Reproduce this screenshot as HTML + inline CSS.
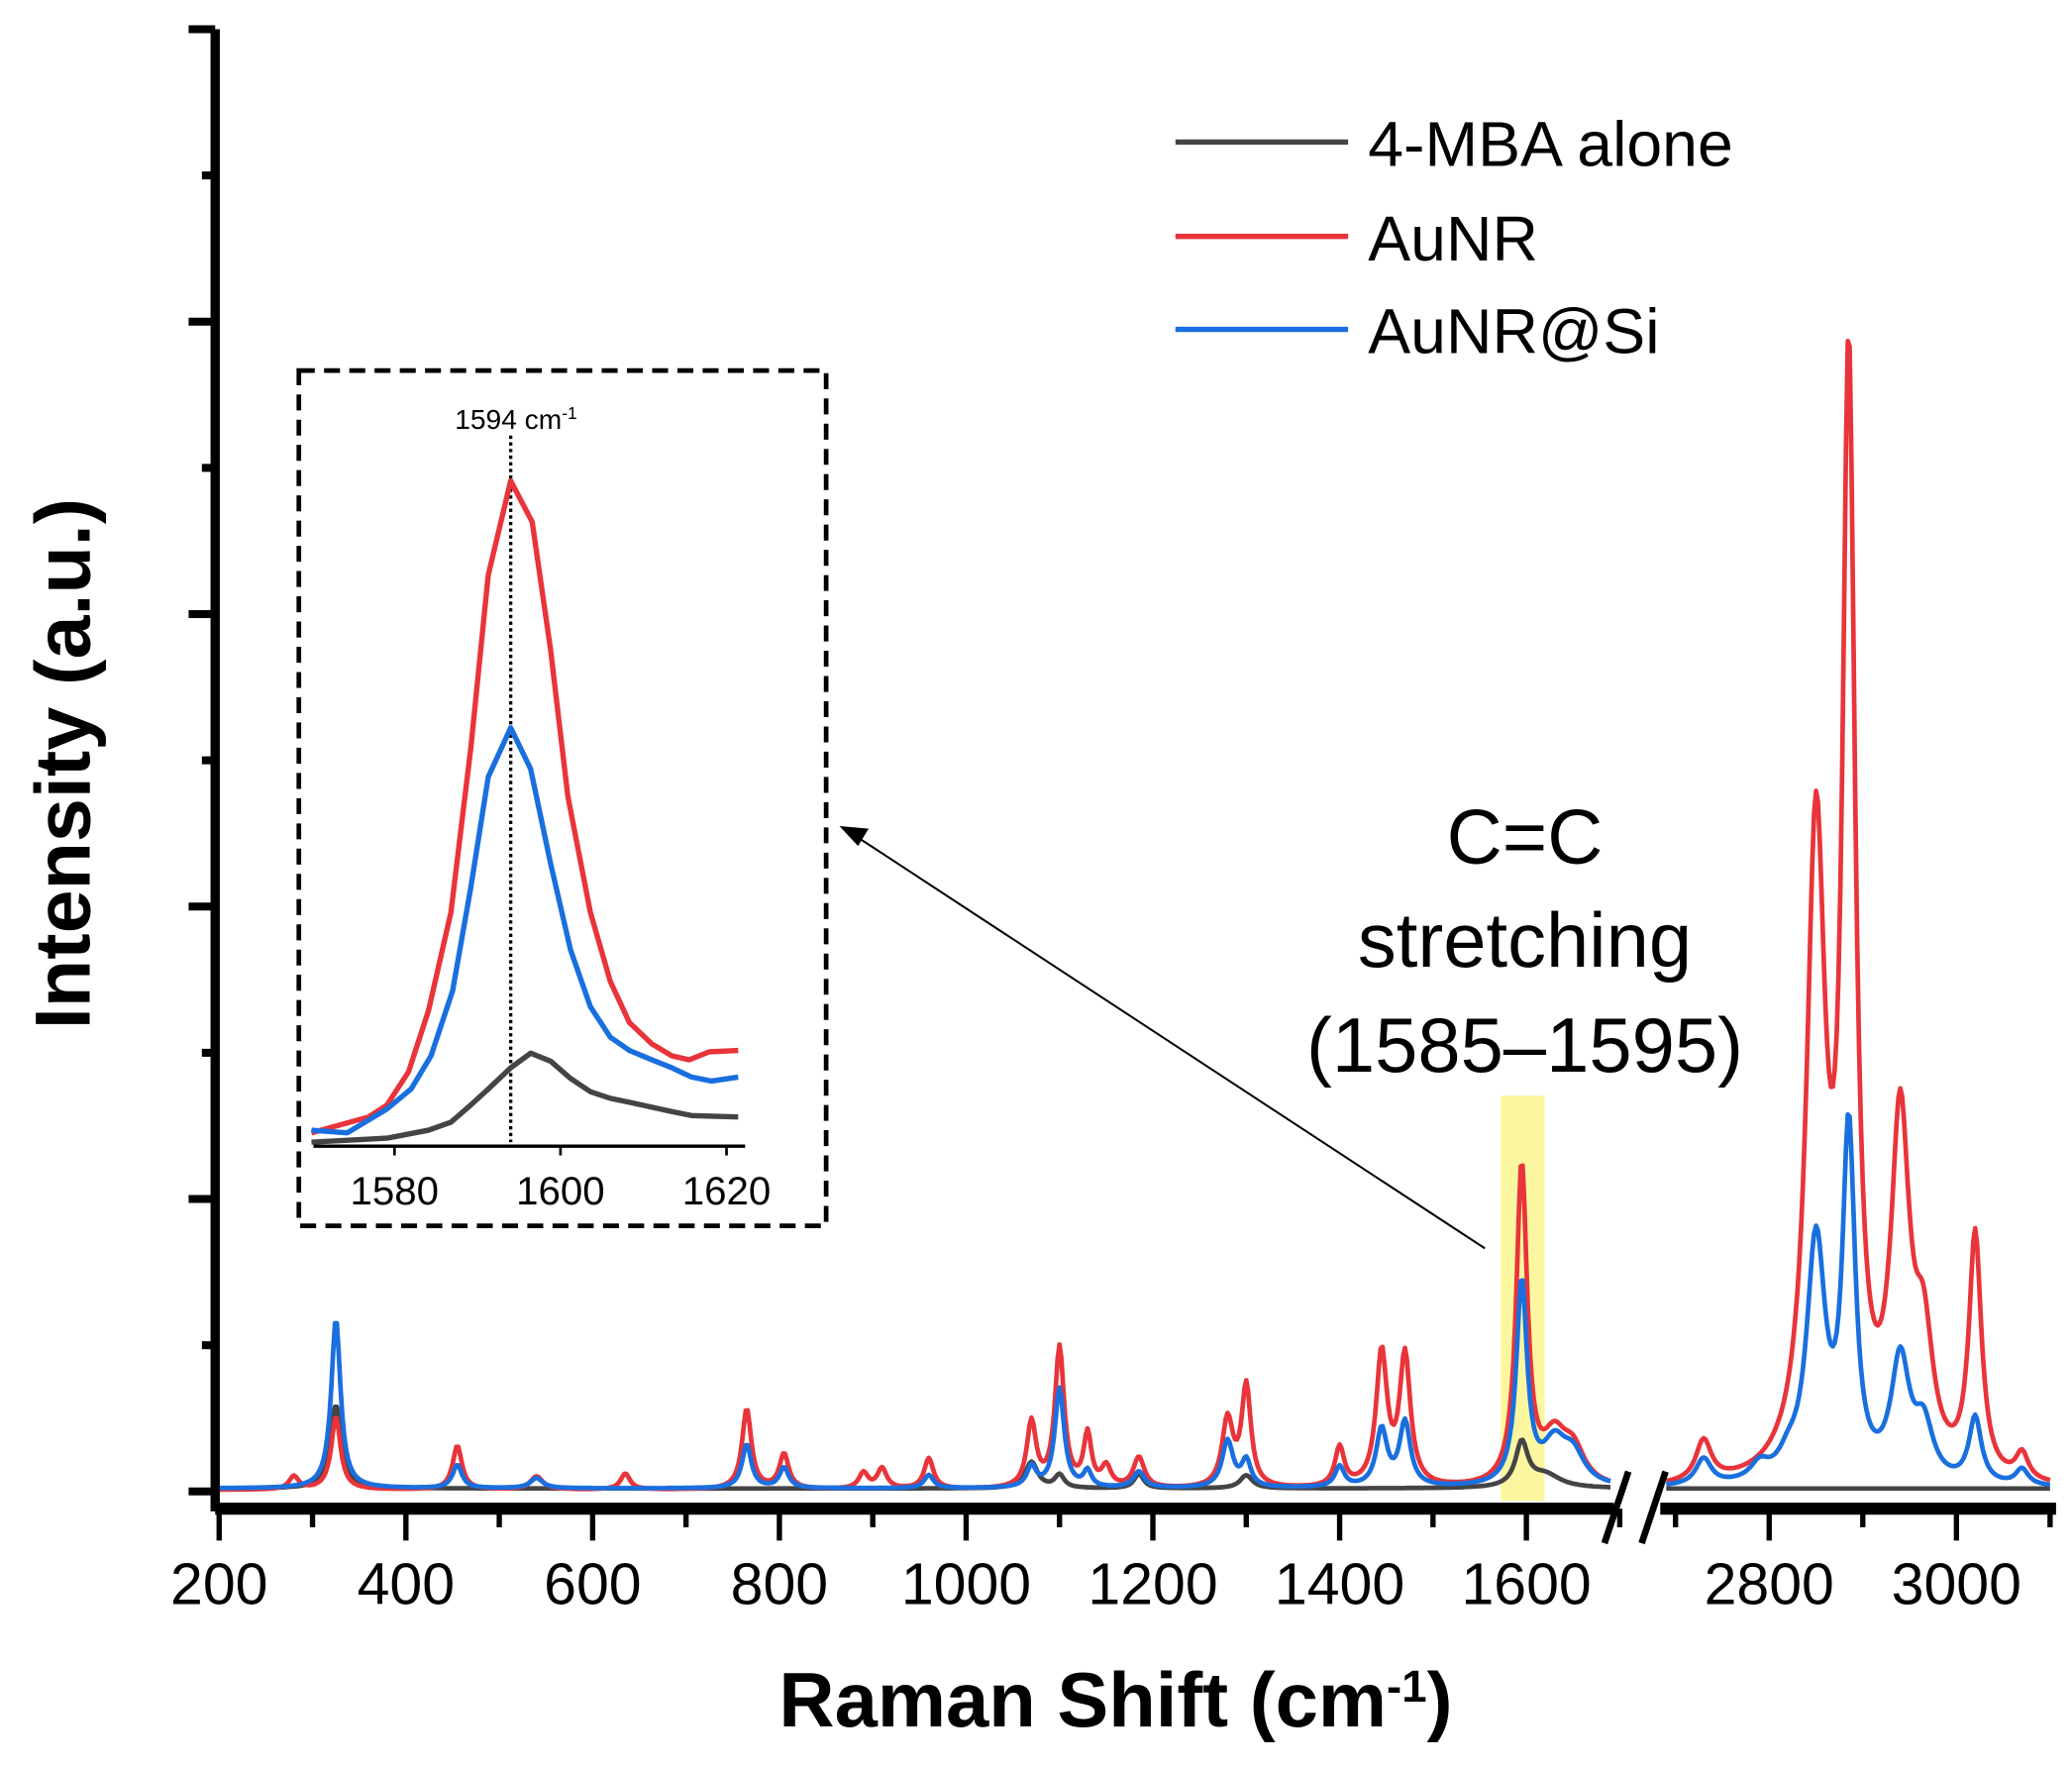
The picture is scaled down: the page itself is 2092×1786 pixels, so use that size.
<!DOCTYPE html>
<html><head><meta charset="utf-8"><style>
html,body{margin:0;padding:0;background:#fff;}
svg{display:block;font-family:"Liberation Sans",Arial,sans-serif;}
</style></head><body>
<svg id="chart" width="2092" height="1786" viewBox="0 0 1560 1332" preserveAspectRatio="none">
<rect x="1130" y="825" width="33" height="305" fill="#fbf7a0"/>
<g id="plot"></g>
<g id="axes"></g>
<text x="52" y="575" transform="rotate(-90 52 575)" text-anchor="middle" dominant-baseline="middle" font-size="59" font-weight="bold">Intensity (a.u.)</text>
<text x="840" y="1300" text-anchor="middle" font-size="58" font-weight="bold">Raman Shift (cm<tspan baseline-shift="super" font-size="34">-1</tspan>)</text>
<g>
<line x1="885" y1="107" x2="1015" y2="107" stroke="#444" stroke-width="4"/>
<text x="1030" y="125" font-size="48">4-MBA alone</text>
<line x1="885" y1="178" x2="1015" y2="178" stroke="#e8343a" stroke-width="4"/>
<text x="1030" y="196" font-size="48">AuNR</text>
<line x1="885" y1="248" x2="1015" y2="248" stroke="#1a6fdf" stroke-width="4"/>
<text x="1030" y="266" font-size="48">AuNR@Si</text>
</g>
<g font-size="58" text-anchor="middle">
<text x="1148" y="650">C=C</text>
<text x="1148" y="728">stretching</text>
<text x="1148" y="807">(1585–1595)</text>
</g>
<line x1="1118" y1="940" x2="645" y2="630" stroke="#000" stroke-width="1.5"/>
<polygon points="632,622 654,624 646,637" fill="#000"/>
<g id="inset">
<rect x="225" y="279" width="397" height="644" fill="#fff" stroke="#000" stroke-width="3.5" stroke-dasharray="12,7"/>
</g>
</svg>
<script>
// Main spectrum peaks (centers in cm-1, heights in a.u., half-widths)
const redCenters=[280,325,455,540,635,765,805,890,910,960,1070,1100,1130,1150,1185,1280,1300,1400,1445,1470,1595,1630,1650,2730,2850,2885,2940,2965,3020,3070];
const redHeights=[9,50,30,9,11,55,24,11,14,21,45,96,36,14,21,46,69,27,91,89,219,30,23,28,436,736,235,80,165,18];
const redWidths=[6,6,6,8,6,6,6,6,6,6,6,6,5,6,7,7,6,6,7,7,7,15,15,10,12,8,12,12,8,8];
const blueCenters=[325,455,540,765,805,960,1070,1100,1130,1185,1280,1300,1400,1445,1470,1595,1630,1650,2730,2790,2820,2850,2885,2940,2965,3020,3070];
const blueHeights=[116,16,7,30,14,9,14,68,11,11,32,18,14,39,44,139,27,20,18,11,11,164,236,82,36,45,11];
const blueWidths=[6,6,8,6,6,6,6,6,5,7,7,6,6,7,7,7,15,15,10,12,12,12,8,12,12,8,8];
const blackCenters=[325,1070,1100,1185,1300,1595,1620];
const blackHeights=[57,18,9,10,9,30,9];
const blackWidths=[7,8,6,6,8,8,20];
const xTicksLeft=[200,400,600,800,1000,1200,1400,1600];
const xTicksRight=[2800,3000];
// Inset data
const insetRedX=[1570,1576.9,1579.1,1581.7,1584.1,1586.8,1589.2,1591.3,1594,1596.6,1598.8,1600.9,1603.6,1606,1608.3,1611,1613.4,1615.5,1617.9,1621.4];
const insetRedY=[7,19,28,53,99,173,297,427,498,467,371,260,173,121,90,74,65,62,68,69];
const insetBlueX=[1570,1574.3,1579.1,1582,1584.4,1587,1589.2,1591.3,1594,1596.4,1598.8,1601.2,1603.6,1606,1608.3,1611,1613.4,1615.8,1618.2,1621.4];
const insetBlueY=[9,7,25,40,65,114,192,275,312,281,210,145,102,79,69,62,56,49,46,49];
const insetBlackX=[1570,1579.1,1584.1,1586.8,1589.2,1591.3,1594,1596.4,1598.8,1601.2,1603.6,1606,1608.3,1613.4,1615.8,1621.4];
const insetBlackY=[0,3,9,15,28,40,56,67,61,48,38,33,30,23,20,19];
const insetTicks=[1580,1600,1620];

const NS="http://www.w3.org/2000/svg";
function mk(tag,attrs,parent){const e=document.createElementNS(NS,tag);for(const k in attrs)e.setAttribute(k,attrs[k]);parent.appendChild(e);return e;}
function xs(x){return x<=1700?165+(x-200)*0.703:1332+(x-2800)*0.705;}
function ys(v){return 1123-v*1.101;}
function spec(c,h,w,x,base){let s=base;for(let i=0;i<c.length;i++){const d=(x-c[i])/w[i];s+=h[i]/(1+d*d);}return s;}
const plot=document.getElementById('plot');
function drawSeries(c,h,w,color,name,base){
  [[200,1690],[2690,3100]].forEach((seg,si)=>{
    let d='';
    for(let x=seg[0];x<=seg[1];x+=2){d+=(x===seg[0]?'M':'L')+xs(x).toFixed(1)+','+ys(spec(c,h,w,x,base)).toFixed(1);}
    const p=mk('path',{d:d,fill:'none',stroke:color,'stroke-width':3.5,'stroke-linejoin':'round'},plot);
    
    
  });
}
drawSeries(blackCenters,blackHeights,blackWidths,'#444','mba',2);
drawSeries(redCenters,redHeights,redWidths,'#e8343a','aunr',1);
drawSeries(blueCenters,blueHeights,blueWidths,'#1a6fdf','aunr-si',2);

const axes=document.getElementById('axes');
let yl=mk('line',{x1:162,y1:22,x2:162,y2:1138,stroke:'#000','stroke-width':7},axes);

for(let i=0;i<=10;i++){const y=22+i*110.1;const major=i%2===0;
  const t=mk('line',{x1:major?142:152,y1:y,x2:162,y2:y,stroke:'#000','stroke-width':6},axes);
  }
let xl=mk('line',{x1:162,y1:1136,x2:1215,y2:1136,stroke:'#000','stroke-width':9},axes);

let xr=mk('line',{x1:1250,y1:1136,x2:1548,y2:1136,stroke:'#000','stroke-width':9},axes);

[1208,1236].forEach(bx=>{const b=mk('line',{x1:bx,y1:1162,x2:bx+18,y2:1108,stroke:'#000','stroke-width':5},axes);
  });
function xtick(v){const x=xs(v);
  const t=mk('line',{x1:x,y1:1136,x2:x,y2:1160,stroke:'#000','stroke-width':4},axes);
  
  const l=mk('text',{x:x,y:1208,'text-anchor':'middle','font-size':44},axes);l.textContent=v;
  
  const m=xs(v+100);if(v+100<=1700&&v<1700||v>=2700&&v+100<=3100){const mt=mk('line',{x1:m,y1:1136,x2:m,y2:1150,stroke:'#000','stroke-width':4},axes);
  }}
xTicksLeft.forEach(xtick);xTicksRight.forEach(xtick);
let mt0=mk('line',{x1:xs(2700),y1:1136,x2:xs(2700),y2:1150,stroke:'#000','stroke-width':4},axes);


// inset
const inset=document.getElementById('inset');
function ix(w){return 297+(w-1580)*6.25;}
function iy(h){return 860-h;}
let ia=mk('line',{x1:236,y1:863,x2:561,y2:863,stroke:'#000','stroke-width':2.5},inset);

insetTicks.forEach(v=>{const t=mk('line',{x1:ix(v),y1:863,x2:ix(v),y2:870,stroke:'#000','stroke-width':2},inset);
  
  const l=mk('text',{x:ix(v),y:907,'text-anchor':'middle','font-size':30},inset);l.textContent=v;
  });
let dl=mk('line',{x1:ix(1594),y1:328,x2:ix(1594),y2:860,stroke:'#000','stroke-width':2.5,'stroke-dasharray':'2.5,2.5'},inset);

let pl=mk('text',{x:ix(1594)+4,y:323,'text-anchor':'middle','font-size':21},inset);
pl.innerHTML='1594 cm<tspan baseline-shift="super" font-size="13">-1</tspan>';

function iline(X,Y,color,name){let d='';X.forEach((w,i)=>{d+=(i?'L':'M')+ix(w).toFixed(1)+','+iy(Y[i]).toFixed(1);});
  const p=mk('path',{d:d,fill:'none',stroke:color,'stroke-width':4,'stroke-linejoin':'round'},inset);
  }
iline(insetBlackX,insetBlackY,'#444','inset-mba-line');
iline(insetRedX,insetRedY,'#e8343a','inset-aunr-line');
iline(insetBlueX,insetBlueY,'#1a6fdf','inset-aunr-si-line');
</script>
</body></html>
